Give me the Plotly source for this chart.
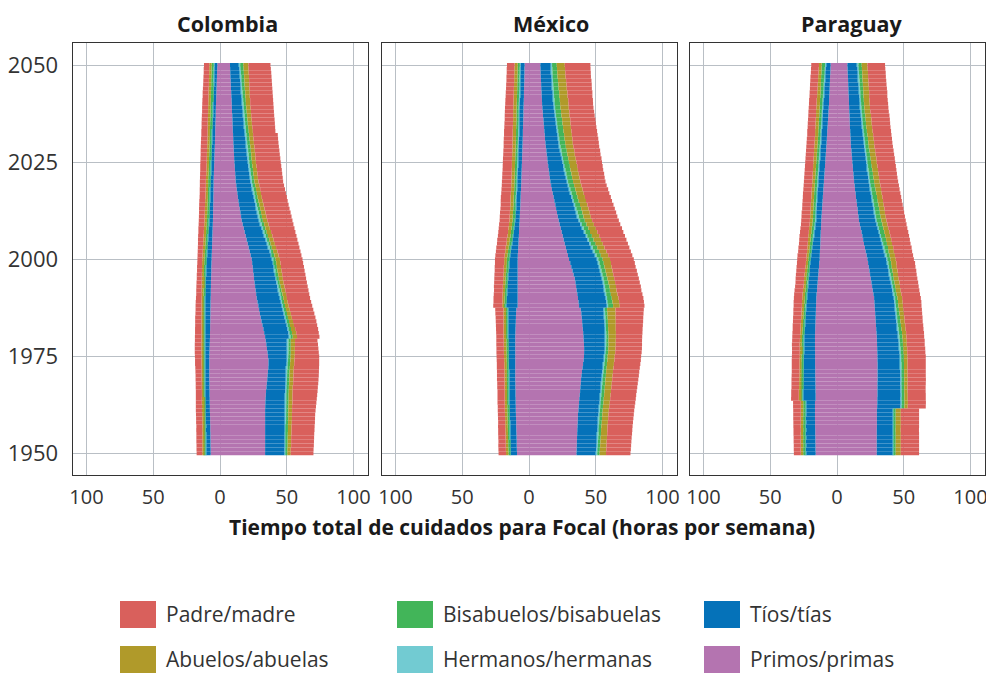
import plotly.graph_objects as go

# ---------------- categories / ticks ----------------
YEARS = list(range(1950, 2051))
COUNTRIES = ["Colombia", "México", "Paraguay"]
KIN_LEGEND = ["Padre/madre", "Abuelos/abuelas", "Bisabuelos/bisabuelas",
              "Hermanos/hermanas", "Tíos/tías", "Primos/primas"]
STACK_ORDER = ["Primos/primas", "Tíos/tías", "Hermanos/hermanas",
               "Bisabuelos/bisabuelas", "Abuelos/abuelas", "Padre/madre"]
X_TICKVALS = [-100, -50, 0, 50, 100]
X_TICKTEXT = ["100", "50", "0", "50", "100"]
Y_TICKVALS = [1950, 1975, 2000, 2025, 2050]
X_TITLE = "Tiempo total de cuidados para Focal (horas por semana)"

# ---------------- Colombia ----------------
COL_L_PRIMOS = [
 7.0,7.0,7.1,7.1,7.2,7.2,7.3,7.3,7.4,7.4,
 7.5,7.6,7.6,7.7,7.7,7.8,7.8,7.9,7.9,8.0,
 8.0,8.0,8.0,8.0,8.0,8.0,7.9,7.8,7.7,7.6,
 7.5,7.5,7.4,7.4,7.3,7.3,7.2,7.2,7.1,7.1,
 7.0,6.9,6.9,6.8,6.8,6.7,6.6,6.5,6.5,6.4,
 6.3,6.2,6.1,6.0,5.9,5.8,5.7,5.6,5.5,5.4,
 5.3,5.2,5.2,5.1,5.1,5.0,5.0,4.9,4.9,4.8,
 4.8,4.7,4.6,4.5,4.4,4.3,4.2,4.1,4.0,3.9,
 3.8,3.7,3.6,3.6,3.5,3.4,3.3,3.2,3.2,3.1,
 3.0,2.9,2.8,2.7,2.6,2.5,2.4,2.3,2.2,2.1,
 2.0]
COL_L_TIOS = [
 3.8,3.8,3.7,3.7,3.6,3.6,3.6,3.5,3.5,3.5,
 3.5,3.5,3.5,3.5,3.5,3.5,3.5,3.5,3.5,3.5,
 3.5,3.5,3.5,3.6,3.6,3.6,3.7,3.8,3.9,3.9,
 4.0,4.0,4.1,4.1,4.2,4.2,4.2,4.2,4.3,4.3,
 4.3,4.3,4.3,4.2,4.2,4.2,4.2,4.1,4.1,4.0,
 4.0,3.9,3.8,3.7,3.6,3.5,3.4,3.3,3.2,3.1,
 3.0,3.0,2.9,2.9,2.8,2.8,2.7,2.7,2.6,2.6,
 2.6,2.6,2.5,2.5,2.5,2.5,2.5,2.5,2.5,2.5,
 2.5,2.5,2.5,2.4,2.4,2.4,2.4,2.4,2.3,2.3,
 2.3,2.3,2.3,2.3,2.3,2.3,2.3,2.3,2.3,2.3,
 2.3]
COL_L_HERMANOS = [
 0.4,0.4,0.4,0.4,0.4,0.4,0.4,0.4,0.4,0.4,
 0.4,0.4,0.4,0.4,0.4,0.4,0.4,0.4,0.4,0.4,
 0.4,0.4,0.4,0.4,0.4,0.4,0.4,0.4,0.4,0.4,
 0.4,0.4,0.4,0.4,0.4,0.4,0.4,0.4,0.4,0.4,
 0.4,0.4,0.4,0.4,0.4,0.4,0.4,0.4,0.4,0.4,
 0.4,0.4,0.4,0.4,0.4,0.4,0.4,0.4,0.4,0.4,
 0.4,0.4,0.4,0.4,0.4,0.4,0.4,0.4,0.4,0.4,
 0.4,0.4,0.4,0.4,0.4,0.4,0.4,0.4,0.4,0.4,
 0.4,0.4,0.4,0.4,0.4,0.4,0.4,0.4,0.4,0.4,
 0.4,0.4,0.4,0.4,0.4,0.4,0.4,0.4,0.4,0.4,
 0.4]
COL_L_BISABUELOS = [
 0.8,0.8,0.8,0.8,0.8,0.7,0.7,0.7,0.7,0.7,
 0.7,0.7,0.7,0.7,0.7,0.7,0.7,0.7,0.7,0.7,
 0.7,0.7,0.7,0.7,0.7,0.7,0.7,0.7,0.7,0.7,
 0.7,0.7,0.7,0.7,0.7,0.8,0.8,0.8,0.8,0.8,
 0.8,0.8,0.8,0.9,0.9,0.9,0.9,1.0,1.0,1.0,
 1.0,1.0,1.0,1.0,1.0,1.1,1.1,1.1,1.1,1.1,
 1.1,1.1,1.1,1.1,1.1,1.1,1.1,1.1,1.1,1.1,
 1.1,1.1,1.1,1.1,1.1,1.1,1.1,1.1,1.1,1.1,
 1.1,1.1,1.1,1.2,1.2,1.2,1.2,1.2,1.2,1.3,
 1.3,1.3,1.3,1.4,1.4,1.4,1.5,1.5,1.5,1.6,
 1.6]
COL_L_ABUELOS = [
 1.3,1.3,1.3,1.3,1.3,1.3,1.3,1.3,1.3,1.3,
 1.3,1.3,1.3,1.3,1.3,1.2,1.2,1.2,1.2,1.2,
 1.2,1.2,1.2,1.2,1.2,1.2,1.3,1.3,1.3,1.3,
 1.3,1.3,1.3,1.3,1.3,1.3,1.3,1.3,1.3,1.3,
 1.3,1.3,1.4,1.4,1.4,1.4,1.5,1.5,1.5,1.6,
 1.6,1.6,1.6,1.7,1.7,1.7,1.7,1.7,1.8,1.8,
 1.8,1.8,1.8,1.8,1.8,1.8,1.7,1.7,1.7,1.7,
 1.7,1.7,1.7,1.7,1.7,1.7,1.7,1.7,1.7,1.7,
 1.7,1.7,1.7,1.7,1.7,1.8,1.8,1.8,1.8,1.8,
 1.8,1.8,1.8,1.8,1.8,1.7,1.7,1.7,1.7,1.7,
 1.7]
COL_L_PADRES = [
 4.2,4.3,4.3,4.4,4.4,4.5,4.5,4.5,4.6,4.6,
 4.6,4.6,4.6,4.5,4.5,4.5,4.5,4.5,4.5,4.5,
 4.5,4.6,4.7,4.8,4.8,4.9,4.9,4.9,4.9,4.9,
 4.9,4.8,4.8,4.7,4.7,4.6,4.5,4.4,4.4,4.3,
 4.2,4.1,4.0,4.0,3.9,3.8,3.8,3.7,3.7,3.6,
 3.6,3.7,3.8,3.8,3.9,4.0,4.1,4.1,4.2,4.2,
 4.3,4.3,4.3,4.4,4.4,4.4,4.4,4.4,4.5,4.5,
 4.5,4.5,4.6,4.6,4.7,4.7,4.7,4.7,4.8,4.8,
 4.8,4.8,4.7,4.7,4.6,4.6,4.6,4.6,4.5,4.5,
 4.5,4.5,4.4,4.4,4.3,4.3,4.2,4.2,4.1,4.1,
 4.0]
COL_R_PRIMOS = [
 33.8,33.8,33.8,33.8,33.8,33.8,33.8,33.8,33.8,33.8,
 33.8,33.8,33.9,34.0,34.1,34.3,34.5,34.8,35.1,35.4,
 35.6,35.9,36.2,36.3,36.3,36.0,35.6,35.2,34.7,34.3,
 33.8,33.1,32.5,31.8,31.1,30.5,29.9,29.3,28.7,28.1,
 27.5,27.1,26.7,26.3,25.9,25.5,25.2,24.8,24.5,24.1,
 23.8,23.0,22.3,21.5,20.8,20.0,19.3,18.5,17.8,17.0,
 16.3,15.8,15.3,14.8,14.3,13.8,13.4,13.0,12.6,12.2,
 11.8,11.6,11.4,11.2,11.0,10.8,10.6,10.5,10.3,10.2,
 10.0,9.9,9.8,9.6,9.5,9.4,9.3,9.2,9.0,8.9,
 8.8,8.7,8.5,8.4,8.2,8.1,8.0,7.8,7.7,7.6,
 7.5]
COL_R_TIOS = [
 14.7,14.7,14.8,14.8,14.8,14.8,14.9,14.9,14.9,15.0,
 15.0,15.1,15.0,15.0,14.9,14.7,14.6,14.4,14.2,14.0,
 13.9,13.7,13.6,13.7,13.9,14.4,14.9,15.3,15.8,16.2,
 18.2,18.3,18.2,18.2,18.2,18.0,17.9,17.8,17.7,17.6,
 17.5,17.3,17.0,16.8,16.5,16.3,16.1,16.0,15.8,15.7,
 15.5,15.3,15.0,14.8,14.5,14.3,14.0,13.8,13.5,13.3,
 13.0,12.8,12.7,12.5,12.4,12.2,12.0,11.8,11.6,11.4,
 11.2,11.0,10.8,10.6,10.4,10.2,10.1,9.9,9.8,9.6,
 9.5,9.3,9.1,9.0,8.8,8.6,8.5,8.3,8.3,8.1,
 8.0,7.9,7.8,7.7,7.6,7.5,7.4,7.4,7.2,7.1,
 7.0]
COL_R_HERMANOS = [
 0.8,0.8,0.8,0.8,0.8,0.8,0.8,0.8,0.8,0.8,
 0.8,0.8,0.8,0.8,0.8,0.8,0.8,0.8,0.8,0.8,
 0.8,0.8,0.8,0.8,0.8,0.8,0.8,0.8,0.8,0.8,
 0.8,0.8,0.8,0.8,0.8,0.8,0.8,0.8,0.8,0.8,
 0.9,0.9,0.9,0.9,0.9,0.9,0.9,0.9,0.9,0.9,
 1.0,1.0,1.0,1.0,1.0,1.0,1.0,1.0,1.0,1.0,
 1.0,1.0,1.0,1.0,1.0,1.0,1.0,1.0,1.0,1.0,
 1.0,1.0,1.0,1.0,1.0,1.0,1.0,1.0,1.0,1.0,
 0.9,0.9,0.9,0.9,0.9,0.9,0.9,0.9,0.9,0.9,
 0.8,0.8,0.8,0.8,0.8,0.8,0.8,0.8,0.8,0.8,
 0.7]
COL_R_BISABUELOS = [
 1.2,1.2,1.3,1.3,1.3,1.4,1.4,1.4,1.5,1.5,
 1.5,1.5,1.5,1.6,1.6,1.6,1.6,1.6,1.7,1.7,
 1.7,1.7,1.7,1.7,1.7,1.7,1.7,1.7,1.7,1.7,
 1.7,1.7,1.7,1.6,1.6,1.6,1.6,1.6,1.5,1.5,
 1.5,1.5,1.5,1.5,1.5,1.4,1.4,1.4,1.4,1.4,
 1.4,1.4,1.5,1.5,1.6,1.6,1.6,1.7,1.7,1.8,
 1.8,1.8,1.8,1.8,1.8,1.8,1.8,1.8,1.8,1.8,
 1.8,1.8,1.8,1.9,1.9,1.9,1.9,2.0,2.0,2.0,
 2.0,2.0,2.0,2.0,1.9,1.9,1.9,1.9,1.8,1.8,
 1.8,1.9,1.9,2.0,2.0,2.0,2.1,2.1,2.2,2.2,
 2.3]
COL_R_ABUELOS = [
 2.5,2.5,2.6,2.6,2.6,2.7,2.7,2.7,2.8,2.8,
 2.8,2.8,2.8,2.9,2.9,2.9,2.9,2.9,3.0,3.0,
 3.0,3.0,3.0,3.1,3.1,3.1,3.1,3.1,3.2,3.2,
 3.2,3.2,3.1,3.0,3.0,2.9,2.9,2.8,2.8,2.7,
 2.7,2.8,2.8,2.9,2.9,3.0,3.0,3.1,3.1,3.2,
 3.2,3.2,3.2,3.2,3.2,3.3,3.3,3.3,3.3,3.3,
 3.3,3.3,3.3,3.2,3.2,3.2,3.1,3.1,3.1,3.0,
 3.0,3.0,3.0,3.0,3.0,3.0,3.0,3.0,3.0,3.0,
 3.0,3.0,3.0,3.1,3.1,3.1,3.1,3.1,3.2,3.2,
 3.2,3.3,3.3,3.4,3.4,3.5,3.5,3.6,3.6,3.7,
 3.8]
COL_R_PADRES = [
 17.0,17.1,17.0,17.1,17.2,17.1,17.2,17.3,17.3,17.3,
 17.4,17.6,17.9,17.9,18.2,18.5,18.7,18.8,18.8,18.9,
 19.0,19.0,18.9,18.7,18.5,18.3,17.9,17.6,17.2,16.8,
 16.8,16.9,17.2,17.4,17.5,17.7,17.6,17.6,17.6,17.6,
 17.4,17.3,17.4,17.3,17.4,17.4,17.4,17.2,17.2,17.0,
 16.9,17.1,17.3,17.5,17.7,17.8,18.1,18.2,18.5,18.6,
 18.9,18.9,18.8,18.8,18.7,18.7,18.8,18.7,18.6,18.6,
 18.5,18.6,18.6,18.6,18.6,18.6,18.6,18.4,18.4,18.3,
 18.4,18.4,18.5,16.9,17.1,17.2,17.2,17.2,17.2,17.3,
 17.4,17.2,17.3,17.1,17.2,17.1,17.0,16.9,16.9,16.7,
 16.5]

# ---------------- México ----------------
MEX_L_PRIMOS = [
 9.0,9.1,9.2,9.2,9.3,9.4,9.5,9.6,9.6,9.7,
 9.8,9.9,9.9,10.0,10.0,10.1,10.1,10.2,10.2,10.3,
 10.3,10.3,10.3,10.3,10.3,10.3,10.3,10.3,10.3,10.3,
 10.3,10.2,10.1,10.0,9.9,9.8,9.7,9.5,8.5,8.5,
 8.5,8.5,8.5,8.5,8.5,8.5,8.5,8.5,8.5,8.5,
 8.5,8.4,8.2,8.1,7.9,7.8,7.6,7.5,7.3,7.2,
 7.0,6.9,6.8,6.6,6.5,6.4,6.3,6.2,6.0,5.9,
 5.8,5.7,5.6,5.5,5.4,5.3,5.2,5.1,5.0,4.9,
 4.8,4.7,4.6,4.6,4.5,4.4,4.3,4.2,4.2,4.1,
 4.0,3.9,3.8,3.8,3.7,3.6,3.5,3.5,3.4,3.4,
 3.3]
MEX_L_TIOS = [
 5.0,5.0,5.0,5.0,5.0,5.0,5.0,5.0,5.0,5.0,
 5.0,5.0,5.0,5.0,5.0,5.0,5.0,5.0,5.0,5.0,
 5.0,5.0,5.1,5.1,5.2,5.2,5.3,5.3,5.4,5.4,
 5.5,5.6,5.7,5.8,5.9,6.0,6.2,6.3,8.8,8.6,
 8.5,8.3,8.1,7.9,7.7,7.5,7.3,7.0,6.8,6.5,
 6.3,6.0,5.7,5.4,5.1,4.8,4.5,4.2,4.0,3.7,
 3.5,3.5,3.4,3.4,3.3,3.3,3.3,3.2,3.2,3.2,
 3.2,3.2,3.2,3.2,3.2,3.2,3.2,3.2,3.2,3.2,
 3.2,3.2,3.2,3.2,3.2,3.2,3.2,3.3,3.3,3.3,
 3.3,3.3,3.3,3.2,3.2,3.2,3.2,3.2,3.2,3.2,
 3.2]
MEX_L_HERMANOS = [
 0.4,0.4,0.4,0.4,0.4,0.4,0.4,0.4,0.4,0.4,
 0.4,0.4,0.4,0.4,0.4,0.4,0.4,0.4,0.4,0.4,
 0.4,0.4,0.4,0.4,0.4,0.4,0.4,0.4,0.4,0.4,
 0.4,0.4,0.4,0.4,0.4,0.4,0.4,0.4,0.4,0.4,
 0.4,0.4,0.4,0.4,0.4,0.4,0.4,0.4,0.4,0.4,
 0.4,0.4,0.4,0.4,0.4,0.4,0.4,0.4,0.4,0.4,
 0.4,0.4,0.4,0.4,0.4,0.4,0.4,0.4,0.4,0.4,
 0.4,0.4,0.4,0.4,0.4,0.4,0.4,0.4,0.4,0.4,
 0.4,0.4,0.4,0.4,0.4,0.4,0.4,0.4,0.4,0.4,
 0.4,0.4,0.4,0.4,0.4,0.4,0.4,0.4,0.4,0.4,
 0.4]
MEX_L_BISABUELOS = [
 1.0,1.0,1.0,1.0,1.0,1.0,1.0,1.0,1.0,1.0,
 1.0,1.0,1.0,1.0,1.0,0.9,0.9,0.9,0.9,0.9,
 0.9,0.9,0.9,0.9,0.9,0.9,0.9,0.9,0.9,0.9,
 0.9,0.9,0.9,0.9,0.9,0.9,0.9,0.9,0.9,0.9,
 1.0,1.0,1.0,1.1,1.1,1.2,1.2,1.2,1.3,1.3,
 1.4,1.4,1.4,1.4,1.4,1.4,1.4,1.4,1.4,1.4,
 1.4,1.4,1.4,1.4,1.4,1.5,1.5,1.5,1.5,1.5,
 1.5,1.5,1.5,1.5,1.5,1.5,1.5,1.5,1.5,1.5,
 1.5,1.5,1.5,1.5,1.5,1.5,1.5,1.5,1.5,1.5,
 1.5,1.5,1.5,1.5,1.5,1.6,1.6,1.6,1.6,1.6,
 1.6]
MEX_L_ABUELOS = [
 1.8,1.8,1.8,1.8,1.8,1.8,1.8,1.8,1.8,1.8,
 1.8,1.8,1.8,1.8,1.8,1.8,1.8,1.8,1.8,1.8,
 1.8,1.8,1.8,1.8,1.8,1.9,1.9,1.9,1.9,1.9,
 2.0,2.0,2.0,2.0,2.0,2.0,2.0,2.0,1.5,1.5,
 1.6,1.6,1.6,1.7,1.7,1.7,1.8,1.8,1.9,1.9,
 2.0,2.0,2.1,2.1,2.1,2.2,2.2,2.2,2.3,2.3,
 2.3,2.3,2.3,2.3,2.3,2.3,2.3,2.3,2.3,2.3,
 2.3,2.3,2.3,2.3,2.3,2.4,2.4,2.4,2.4,2.4,
 2.5,2.5,2.5,2.5,2.5,2.5,2.5,2.5,2.5,2.5,
 2.5,2.5,2.5,2.5,2.5,2.4,2.4,2.4,2.4,2.4,
 2.3]
MEX_L_PADRES = [
 5.6,5.6,5.6,5.5,5.5,5.5,5.4,5.4,5.3,5.3,
 5.3,5.3,5.3,5.4,5.4,5.4,5.4,5.5,5.5,5.6,
 5.6,5.6,5.6,5.6,5.6,5.6,5.6,5.6,5.6,5.6,
 5.4,5.5,5.6,5.7,5.8,5.9,6.0,6.2,6.7,6.7,
 6.6,6.6,6.6,6.7,6.7,6.7,6.7,6.8,6.8,6.9,
 6.9,7.0,7.0,7.1,7.1,7.2,7.2,7.3,7.3,7.4,
 7.4,7.4,7.4,7.3,7.3,7.3,7.3,7.2,7.2,7.1,
 7.1,7.0,7.0,6.9,6.9,6.8,6.8,6.7,6.7,6.6,
 6.6,6.6,6.5,6.5,6.4,6.4,6.3,6.3,6.2,6.2,
 6.1,6.1,6.0,6.0,5.9,5.9,5.8,5.8,5.7,5.7,
 5.7]
MEX_R_PRIMOS = [
 35.6,35.7,35.8,35.9,36.0,36.1,36.2,36.3,36.5,36.6,
 36.7,37.0,37.2,37.5,37.7,38.0,38.3,38.5,38.8,39.0,
 39.3,39.7,40.1,40.5,40.9,41.2,41.3,41.3,41.2,41.0,
 40.8,40.6,40.3,40.0,39.8,39.5,39.2,38.8,37.5,37.1,
 36.7,36.2,35.7,35.3,34.8,34.3,33.4,32.6,31.7,30.9,
 30.0,29.2,28.4,27.6,26.8,26.0,25.3,24.5,23.8,23.0,
 22.3,21.6,21.0,20.3,19.7,19.0,18.4,17.8,17.2,16.6,
 16.0,15.6,15.2,14.8,14.4,14.0,13.7,13.3,13.0,12.6,
 12.3,12.0,11.8,11.5,11.3,11.0,10.8,10.5,10.3,10.0,
 9.8,9.7,9.5,9.4,9.2,9.1,9.0,8.8,8.7,8.6,
 8.5]
MEX_R_TIOS = [
 14.8,14.9,15.0,15.0,15.1,15.2,15.3,15.3,15.4,15.4,
 15.5,15.5,15.5,15.5,15.5,15.5,15.5,15.5,15.5,15.5,
 15.5,15.4,15.4,15.3,15.3,15.2,15.5,15.7,16.0,16.2,
 16.5,16.6,16.7,16.8,16.9,17.0,17.1,17.2,21.0,21.0,
 20.9,20.8,20.7,20.7,20.6,20.5,20.6,20.7,20.8,20.9,
 21.0,20.4,19.8,19.2,18.6,18.0,17.4,16.8,16.2,15.6,
 15.0,14.7,14.5,14.2,14.0,13.7,13.5,13.2,13.0,12.7,
 12.5,12.2,12.0,11.7,11.5,11.2,11.0,10.7,10.5,10.2,
 10.0,9.9,9.7,9.6,9.4,9.3,9.2,9.0,8.9,8.8,
 8.7,8.6,8.5,8.5,8.4,8.3,8.2,8.2,8.1,8.1,
 8.0]
MEX_R_HERMANOS = [
 0.8,0.8,0.8,0.8,0.8,0.8,0.7,0.7,0.7,0.7,
 0.7,0.7,0.7,0.7,0.7,0.7,0.7,0.7,0.7,0.7,
 0.7,0.7,0.7,0.7,0.7,0.7,0.7,0.7,0.7,0.7,
 0.7,0.7,0.7,0.8,0.8,0.8,0.8,0.8,0.8,0.8,
 0.9,0.9,0.9,1.0,1.0,1.0,1.0,1.0,1.0,1.0,
 1.0,1.0,1.0,1.0,1.0,1.0,1.0,1.0,1.0,1.0,
 1.0,1.0,1.0,1.0,0.9,0.9,0.9,0.9,0.8,0.8,
 0.8,0.8,0.8,0.8,0.8,0.8,0.8,0.8,0.8,0.8,
 0.8,0.8,0.8,0.8,0.8,0.8,0.8,0.8,0.8,0.8,
 0.8,0.8,0.8,0.8,0.8,0.8,0.8,0.8,0.8,0.8,
 0.8]
MEX_R_BISABUELOS = [
 1.7,1.7,1.7,1.8,1.8,1.8,1.8,1.9,1.9,2.0,
 2.0,2.0,2.0,2.1,2.1,2.1,2.1,2.1,2.1,2.1,
 2.1,2.0,2.0,1.9,1.9,1.8,1.8,1.7,1.7,1.6,
 1.6,1.6,1.6,1.6,1.6,1.6,1.7,1.7,3.7,3.6,
 3.5,3.4,3.3,3.2,3.1,3.0,3.0,3.1,3.1,3.2,
 3.2,3.2,3.3,3.3,3.4,3.4,3.4,3.4,3.5,3.5,
 3.5,3.5,3.5,3.6,3.6,3.6,3.6,3.6,3.7,3.7,
 3.7,3.7,3.8,3.8,3.9,3.9,3.9,3.9,4.0,4.0,
 4.0,4.0,4.0,4.0,4.0,4.0,4.0,4.0,4.0,4.0,
 4.0,4.0,3.9,3.9,3.8,3.8,3.7,3.6,3.6,3.5,
 3.5]
MEX_R_ABUELOS = [
 4.8,4.8,4.8,4.7,4.7,4.7,4.7,4.6,4.6,4.6,
 4.6,4.6,4.7,4.7,4.8,4.8,4.8,4.9,4.9,5.0,
 5.0,5.1,5.1,5.2,5.2,5.3,5.3,5.4,5.4,5.5,
 5.5,5.6,5.7,5.8,5.9,6.0,6.1,6.3,5.0,5.0,
 5.0,5.0,5.0,5.0,5.0,5.0,5.1,5.2,5.3,5.4,
 5.5,5.5,5.5,5.5,5.5,5.5,5.5,5.5,5.5,5.5,
 5.5,5.5,5.5,5.5,5.5,5.5,5.5,5.5,5.5,5.5,
 5.5,5.5,5.5,5.5,5.5,5.6,5.6,5.6,5.6,5.6,
 5.7,5.8,5.8,5.9,5.9,6.0,6.1,6.1,6.2,6.2,
 6.3,6.3,6.2,6.2,6.1,6.1,6.1,6.0,6.0,6.0,
 6.0]
MEX_R_PADRES = [
 18.3,18.4,18.4,18.5,18.5,18.6,18.7,18.8,18.8,18.9,
 19.0,19.0,19.1,19.1,19.2,19.2,19.3,19.4,19.5,19.6,
 19.7,19.7,19.7,19.8,19.8,19.8,19.8,19.8,19.7,19.7,
 19.7,19.9,20.1,20.3,20.5,20.7,20.9,21.2,18.5,18.6,
 18.7,18.7,18.6,18.6,18.5,18.5,18.4,18.2,18.0,17.9,
 17.8,18.1,18.3,18.6,18.8,19.1,19.3,19.5,19.7,19.8,
 20.0,19.9,19.8,19.7,19.6,19.5,19.4,19.2,19.1,18.9,
 18.8,18.9,19.0,19.0,19.1,19.2,19.3,19.3,19.4,19.4,
 19.5,19.4,19.3,19.2,19.1,19.0,18.9,18.8,18.6,18.5,
 18.4,18.5,18.6,18.7,18.8,18.9,19.0,19.0,19.1,19.1,
 19.2]

# ---------------- Paraguay ----------------
PAR_L_PRIMOS = [
 16.0,16.1,16.1,16.2,16.2,16.3,16.3,16.4,16.4,16.5,
 16.5,16.5,16.5,16.5,16.0,16.0,16.1,16.1,16.2,16.2,
 16.3,16.3,16.3,16.4,16.4,16.4,16.4,16.5,16.5,16.5,
 16.5,16.4,16.3,16.2,16.1,16.0,15.9,15.8,15.7,15.6,
 15.5,15.3,15.0,14.8,14.5,14.3,14.0,13.8,13.5,13.3,
 13.0,12.9,12.8,12.6,12.5,12.4,12.3,12.2,12.0,11.9,
 11.8,11.6,11.4,11.2,11.0,10.8,10.6,10.4,10.2,10.0,
 9.8,9.6,9.4,9.2,9.0,8.8,8.6,8.4,8.2,8.0,
 7.8,7.6,7.4,7.3,7.1,6.9,6.7,6.5,6.4,6.2,
 6.0,5.9,5.8,5.6,5.5,5.4,5.3,5.2,5.0,4.9,
 4.8]
PAR_L_TIOS = [
 7.5,7.5,7.4,7.4,7.3,7.3,7.2,7.2,7.1,7.1,
 7.0,7.0,7.0,7.0,9.5,9.5,9.4,9.3,9.2,9.1,
 9.0,8.9,8.9,8.8,8.8,8.7,8.6,8.5,8.5,8.4,
 8.3,8.2,8.1,8.0,7.9,7.8,7.7,7.6,7.5,7.4,
 7.3,7.3,7.3,7.2,7.2,7.2,7.2,7.1,7.1,7.0,
 7.0,6.7,6.4,6.2,5.9,5.6,5.3,5.0,4.8,4.5,
 4.2,4.2,4.3,4.3,4.4,4.4,4.4,4.5,4.5,4.5,
 4.5,4.5,4.5,4.5,4.5,4.5,4.5,4.5,4.5,4.5,
 4.5,4.5,4.5,4.5,4.5,4.5,4.5,4.5,4.5,4.5,
 4.5,4.4,4.3,4.3,4.2,4.1,4.0,3.9,3.9,3.8,
 3.7]
PAR_L_HERMANOS = [
 0.4,0.4,0.4,0.4,0.4,0.4,0.4,0.4,0.4,0.4,
 0.4,0.4,0.4,0.4,0.4,0.4,0.4,0.4,0.4,0.4,
 0.4,0.4,0.4,0.4,0.4,0.4,0.4,0.4,0.4,0.4,
 0.4,0.4,0.4,0.4,0.4,0.4,0.4,0.4,0.4,0.4,
 0.4,0.4,0.4,0.4,0.4,0.4,0.4,0.4,0.4,0.4,
 0.4,0.4,0.4,0.4,0.5,0.5,0.5,0.5,0.5,0.5,
 0.5,0.5,0.5,0.5,0.5,0.5,0.5,0.5,0.5,0.5,
 0.5,0.5,0.5,0.5,0.5,0.5,0.5,0.5,0.5,0.5,
 0.5,0.5,0.5,0.5,0.5,0.5,0.5,0.5,0.5,0.5,
 0.5,0.5,0.5,0.5,0.5,0.5,0.5,0.5,0.5,0.5,
 0.5]
PAR_L_BISABUELOS = [
 1.4,1.4,1.4,1.4,1.4,1.4,1.4,1.4,1.4,1.4,
 1.4,1.4,1.4,1.4,1.4,1.4,1.4,1.3,1.3,1.3,
 1.2,1.2,1.2,1.2,1.1,1.1,1.1,1.1,1.1,1.0,
 1.0,1.0,1.0,1.0,1.0,1.0,1.0,1.0,1.0,1.0,
 1.0,1.0,1.0,1.0,1.0,1.1,1.1,1.1,1.1,1.1,
 1.1,1.2,1.2,1.3,1.3,1.4,1.5,1.5,1.6,1.6,
 1.7,1.7,1.7,1.7,1.7,1.7,1.7,1.7,1.7,1.7,
 1.7,1.7,1.7,1.7,1.7,1.7,1.7,1.7,1.7,1.7,
 1.7,1.7,1.7,1.7,1.7,1.8,1.8,1.8,1.8,1.8,
 1.8,1.9,1.9,2.0,2.0,2.1,2.2,2.3,2.3,2.4,
 2.5]
PAR_L_ABUELOS = [
 1.8,1.8,1.8,1.8,1.8,1.8,1.8,1.8,1.8,1.8,
 1.8,1.8,1.8,1.8,1.3,1.3,1.3,1.3,1.3,1.3,
 1.3,1.3,1.3,1.3,1.4,1.4,1.4,1.4,1.5,1.5,
 1.5,1.5,1.5,1.6,1.6,1.6,1.6,1.7,1.7,1.8,
 1.8,1.8,1.8,1.7,1.7,1.7,1.7,1.6,1.6,1.5,
 1.5,1.6,1.6,1.7,1.7,1.8,1.9,1.9,2.0,2.0,
 2.1,2.1,2.1,2.0,2.0,2.0,2.0,2.0,2.0,2.0,
 2.0,2.0,2.1,2.1,2.2,2.2,2.2,2.2,2.3,2.3,
 2.3,2.3,2.3,2.4,2.4,2.4,2.4,2.4,2.5,2.5,
 2.5,2.5,2.4,2.4,2.3,2.3,2.2,2.2,2.1,2.1,
 2.0]
PAR_L_PADRES = [
 5.2,5.2,5.3,5.3,5.4,5.4,5.5,5.5,5.6,5.6,
 5.7,5.7,5.8,5.8,5.8,5.7,5.7,5.7,5.7,5.8,
 5.8,5.8,5.8,5.8,5.8,5.8,5.8,5.8,5.8,5.8,
 5.8,5.9,5.9,6.0,6.0,6.1,6.1,6.2,6.2,6.3,
 6.3,6.3,6.3,6.3,6.3,6.3,6.4,6.5,6.6,6.7,
 6.8,6.8,6.7,6.7,6.6,6.6,6.6,6.6,6.5,6.5,
 6.5,6.5,6.5,6.4,6.4,6.4,6.4,6.4,6.3,6.3,
 6.3,6.3,6.2,6.2,6.1,6.1,6.1,6.1,6.0,6.0,
 6.0,6.0,5.9,5.9,5.8,5.8,5.8,5.8,5.7,5.7,
 5.7,5.7,5.7,5.7,5.8,5.8,5.8,5.8,5.8,5.8,
 5.8]
PAR_R_PRIMOS = [
 29.8,29.8,29.8,29.8,29.8,29.8,29.8,29.9,29.9,29.9,
 29.9,29.9,30.1,30.2,30.2,30.3,30.3,30.3,30.3,30.4,
 30.4,30.4,30.4,30.4,30.3,30.3,30.2,30.1,30.0,29.9,
 29.8,29.6,29.4,29.2,29.0,28.8,28.6,28.4,28.2,28.0,
 27.8,27.3,26.8,26.3,25.8,25.3,24.8,24.3,23.8,23.3,
 22.8,22.2,21.5,20.9,20.2,19.6,19.0,18.4,17.7,17.1,
 16.5,16.1,15.7,15.4,15.0,14.6,14.2,13.9,13.5,13.2,
 12.8,12.5,12.3,12.0,11.8,11.5,11.3,11.0,10.8,10.5,
 10.3,10.2,10.0,9.9,9.7,9.6,9.5,9.4,9.2,9.1,
 9.0,8.9,8.8,8.6,8.5,8.4,8.3,8.2,8.0,7.9,
 7.8]
PAR_R_TIOS = [
 12.5,12.5,12.5,12.5,12.5,12.5,12.4,12.4,12.4,12.4,
 12.4,12.4,17.6,17.6,17.5,17.5,17.4,17.4,17.3,17.3,
 17.2,17.2,17.1,17.1,17.0,17.0,16.8,16.7,16.5,16.4,
 16.2,16.1,15.9,15.8,15.6,15.5,15.4,15.3,15.2,15.1,
 15.0,14.9,14.8,14.8,14.7,14.6,14.5,14.5,14.4,14.4,
 14.3,14.1,13.9,13.8,13.6,13.4,13.2,13.0,12.9,12.7,
 12.5,12.4,12.2,12.1,12.0,11.9,11.8,11.6,11.5,11.3,
 11.2,11.1,11.0,10.8,10.7,10.6,10.5,10.4,10.2,10.1,
 10.0,9.8,9.6,9.4,9.2,9.0,8.9,8.7,8.6,8.4,
 8.3,8.2,8.1,8.1,8.0,7.9,7.8,7.7,7.7,7.6,
 7.5]
PAR_R_HERMANOS = [
 0.7,0.7,0.7,0.7,0.7,0.7,0.7,0.7,0.7,0.7,
 0.7,0.7,0.8,0.8,0.8,0.8,0.8,0.8,0.8,0.8,
 0.8,0.8,0.8,0.8,0.8,0.8,0.8,0.8,0.8,0.8,
 0.8,0.8,0.8,0.8,0.8,0.8,0.8,0.8,0.8,0.8,
 0.8,0.8,0.8,0.8,0.8,0.8,0.8,0.8,0.8,0.8,
 0.8,0.8,0.8,0.8,0.8,0.8,0.8,0.8,0.8,0.8,
 0.8,0.8,0.8,0.8,0.8,0.8,0.8,0.8,0.8,0.8,
 0.8,0.8,0.8,0.8,0.8,0.8,0.8,0.8,0.8,0.8,
 0.8,0.8,0.8,0.8,0.8,0.8,0.8,0.8,0.8,0.8,
 0.8,0.8,0.8,0.8,0.8,0.8,0.8,0.8,0.8,0.8,
 0.8]
PAR_R_BISABUELOS = [
 1.0,1.0,1.0,1.0,1.0,1.0,1.0,1.0,1.0,1.0,
 1.0,1.0,2.0,2.0,2.0,1.9,1.9,1.9,1.9,1.9,
 1.9,1.9,1.9,1.9,2.0,2.0,2.0,2.1,2.1,2.2,
 2.2,2.2,2.2,2.1,2.1,2.1,2.0,1.9,1.8,1.8,
 1.7,1.7,1.7,1.7,1.8,1.8,1.9,2.0,2.0,2.1,
 2.2,2.4,2.5,2.7,2.8,3.0,3.1,3.2,3.3,3.4,
 3.5,3.4,3.4,3.3,3.3,3.2,3.2,3.1,3.1,3.0,
 3.0,2.9,2.8,2.8,2.7,2.6,2.6,2.5,2.5,2.4,
 2.4,2.4,2.4,2.3,2.3,2.3,2.3,2.3,2.2,2.2,
 2.2,2.2,2.2,2.3,2.3,2.3,2.3,2.3,2.4,2.4,
 2.4]
PAR_R_ABUELOS = [
 3.8,3.8,3.8,3.8,3.8,3.8,3.8,3.8,3.8,3.8,
 3.8,3.8,2.5,2.5,2.5,2.5,2.5,2.5,2.6,2.6,
 2.6,2.6,2.7,2.7,2.8,2.8,2.8,2.9,2.9,3.0,
 3.0,3.1,3.1,3.2,3.2,3.3,3.3,3.4,3.4,3.5,
 3.5,3.5,3.6,3.6,3.7,3.7,3.7,3.8,3.8,3.9,
 3.9,3.9,3.9,3.9,3.8,3.8,3.8,3.8,3.7,3.7,
 3.7,3.8,3.8,3.9,3.9,4.0,4.0,4.1,4.1,4.2,
 4.2,4.2,4.2,4.3,4.3,4.3,4.3,4.3,4.3,4.3,
 4.3,4.3,4.3,4.3,4.3,4.3,4.3,4.3,4.2,4.2,
 4.2,4.2,4.2,4.3,4.3,4.3,4.3,4.3,4.3,4.3,
 4.3]
PAR_R_PADRES = [
 13.7,13.7,13.7,13.7,13.7,13.7,13.7,13.7,13.7,13.7,
 13.7,13.7,13.5,13.5,13.5,13.5,13.5,13.5,13.6,13.6,
 13.6,13.6,13.6,13.6,13.6,13.6,13.6,13.5,13.4,13.4,
 13.3,13.4,13.4,13.5,13.5,13.6,13.7,13.8,13.9,14.0,
 14.0,14.0,14.0,14.0,14.0,14.0,14.0,14.0,14.0,14.0,
 13.6,13.6,13.7,13.8,13.9,14.0,14.1,14.2,14.3,14.4,
 14.5,14.4,14.4,14.3,14.2,14.1,14.1,14.0,13.9,13.9,
 13.8,13.8,13.8,13.8,13.8,13.8,13.8,13.8,13.8,13.8,
 13.7,13.7,13.7,13.8,13.8,13.8,13.8,13.8,13.8,13.8,
 13.8,13.7,13.6,13.6,13.5,13.4,13.4,13.3,13.3,13.2,
 13.2]

DATA = {
    "Colombia": {
        "left": {"Primos/primas": COL_L_PRIMOS, "Tíos/tías": COL_L_TIOS,
                 "Hermanos/hermanas": COL_L_HERMANOS, "Bisabuelos/bisabuelas": COL_L_BISABUELOS,
                 "Abuelos/abuelas": COL_L_ABUELOS, "Padre/madre": COL_L_PADRES},
        "right": {"Primos/primas": COL_R_PRIMOS, "Tíos/tías": COL_R_TIOS,
                  "Hermanos/hermanas": COL_R_HERMANOS, "Bisabuelos/bisabuelas": COL_R_BISABUELOS,
                  "Abuelos/abuelas": COL_R_ABUELOS, "Padre/madre": COL_R_PADRES}},
    "México": {
        "left": {"Primos/primas": MEX_L_PRIMOS, "Tíos/tías": MEX_L_TIOS,
                 "Hermanos/hermanas": MEX_L_HERMANOS, "Bisabuelos/bisabuelas": MEX_L_BISABUELOS,
                 "Abuelos/abuelas": MEX_L_ABUELOS, "Padre/madre": MEX_L_PADRES},
        "right": {"Primos/primas": MEX_R_PRIMOS, "Tíos/tías": MEX_R_TIOS,
                  "Hermanos/hermanas": MEX_R_HERMANOS, "Bisabuelos/bisabuelas": MEX_R_BISABUELOS,
                  "Abuelos/abuelas": MEX_R_ABUELOS, "Padre/madre": MEX_R_PADRES}},
    "Paraguay": {
        "left": {"Primos/primas": PAR_L_PRIMOS, "Tíos/tías": PAR_L_TIOS,
                 "Hermanos/hermanas": PAR_L_HERMANOS, "Bisabuelos/bisabuelas": PAR_L_BISABUELOS,
                 "Abuelos/abuelas": PAR_L_ABUELOS, "Padre/madre": PAR_L_PADRES},
        "right": {"Primos/primas": PAR_R_PRIMOS, "Tíos/tías": PAR_R_TIOS,
                  "Hermanos/hermanas": PAR_R_HERMANOS, "Bisabuelos/bisabuelas": PAR_R_BISABUELOS,
                  "Abuelos/abuelas": PAR_R_ABUELOS, "Padre/madre": PAR_R_PADRES}},
}

COLORS = {
    "Padre/madre": "#D9605C",
    "Abuelos/abuelas": "#B09A2A",
    "Bisabuelos/bisabuelas": "#42B559",
    "Hermanos/hermanas": "#72CBD2",
    "Tíos/tías": "#0572B9",
    "Primos/primas": "#B474B0",
}

# ---------------- layout geometry (screen pixels) ----------------
OFF = 0                      # body margin removed by the post script below
W, H = 986, 673
FONT = "Open Sans"
TXT = "#333333"
GRID = "#B9BFC5"
PANELS_PX = [(72.5, 367.5), (381.5, 676.5), (689.5, 984.5)]
PLOT_TOP, PLOT_BOTTOM = 43.3, 475.0
TITLE_X = [227, 551, 851]


def px_x(p):
    return (p - OFF) / W


def px_y(p):
    return 1 - (p - OFF) / H


fig = go.Figure()
for i, c in enumerate(COUNTRIES):
    xa = "x" if i == 0 else f"x{i + 1}"
    ya = "y" if i == 0 else f"y{i + 1}"
    for kin in STACK_ORDER:
        fig.add_trace(go.Bar(
            y=YEARS, x=[-v for v in DATA[c]["left"][kin]], orientation="h",
            width=1.0, marker=dict(color=COLORS[kin], line=dict(width=0)),
            name=kin, showlegend=False, xaxis=xa, yaxis=ya,
            hovertemplate="%{y}: %{x}<extra>" + kin + "</extra>"))
        fig.add_trace(go.Bar(
            y=YEARS, x=DATA[c]["right"][kin], orientation="h",
            width=1.0, marker=dict(color=COLORS[kin], line=dict(width=0)),
            name=kin, showlegend=False, xaxis=xa, yaxis=ya,
            hovertemplate="%{y}: %{x}<extra>" + kin + "</extra>"))

ydom = [px_y(PLOT_BOTTOM), px_y(PLOT_TOP)]
layout = dict(
    width=W, height=H, barmode="relative",
    margin=dict(l=0, r=0, t=0, b=0, autoexpand=False),
    paper_bgcolor="white", plot_bgcolor="white",
    font=dict(family=FONT, color=TXT),
    showlegend=False,
)
for i in range(3):
    sx = "" if i == 0 else str(i + 1)
    layout["xaxis" + sx] = dict(
        domain=[px_x(PANELS_PX[i][0]), px_x(PANELS_PX[i][1])],
        range=[-110.5, 110.5], tickvals=X_TICKVALS, ticktext=X_TICKTEXT,
        showgrid=True, gridcolor=GRID, gridwidth=1.2, zeroline=False,
        showline=True, mirror=True, linecolor="#333333", linewidth=1,
        ticks="", ticklabelstandoff=4, ticklabeloverflow="allow",
        tickfont=dict(size=20, color=TXT, family=FONT),
        anchor="y" + sx, fixedrange=True, automargin=False)
    layout["yaxis" + sx] = dict(
        domain=ydom, range=[1944.4, 2055.6], tickvals=Y_TICKVALS,
        showgrid=True, gridcolor=GRID, gridwidth=1.2, zeroline=False,
        showline=True, mirror=True, linecolor="#333333", linewidth=1,
        ticks="", showticklabels=(i == 0), ticklabelstandoff=9,
        ticklabeloverflow="allow",
        tickfont=dict(size=22, color=TXT, family=FONT),
        anchor="x" + sx, fixedrange=True, automargin=False,
        **({} if i == 0 else {"matches": "y"}))
fig.update_layout(**layout)

annotations = []
for i, c in enumerate(COUNTRIES):
    annotations.append(dict(
        x=px_x(TITLE_X[i]), y=px_y(24), xref="paper", yref="paper",
        text="<b>" + c + "</b>", showarrow=False, xanchor="center", yanchor="middle",
        font=dict(size=21.5, color="#1a1a1a", family=FONT)))
annotations.append(dict(
    x=px_x(522), y=px_y(527), xref="paper", yref="paper",
    text="<b>" + X_TITLE + "</b>", showarrow=False, xanchor="center", yanchor="middle",
    font=dict(size=21, color="#1a1a1a", family=FONT)))

# legend (drawn manually: 3 columns x 2 rows, column-major)
LEG_COL_X = [120, 397, 704]
LEG_ROW_Y = [601, 646]
shapes = []
for k, kin in enumerate(KIN_LEGEND):
    col, row = k // 2, k % 2
    x0 = LEG_COL_X[col]
    y0 = LEG_ROW_Y[row]
    shapes.append(dict(type="rect", xref="paper", yref="paper",
                       x0=px_x(x0), x1=px_x(x0 + 36), y0=px_y(y0 + 27), y1=px_y(y0),
                       fillcolor=COLORS[kin], line=dict(width=0)))
    annotations.append(dict(
        x=px_x(x0 + 44), y=px_y(y0 + 12.5), xref="paper", yref="paper",
        text=kin, showarrow=False, xanchor="left", yanchor="middle",
        font=dict(size=21, color=TXT, family=FONT)))
fig.update_layout(annotations=annotations, shapes=shapes)

fig.write_html(
    "out.html",
    config={"displayModeBar": False},
    post_script="document.body.style.margin='0';document.body.style.overflow='hidden';")
